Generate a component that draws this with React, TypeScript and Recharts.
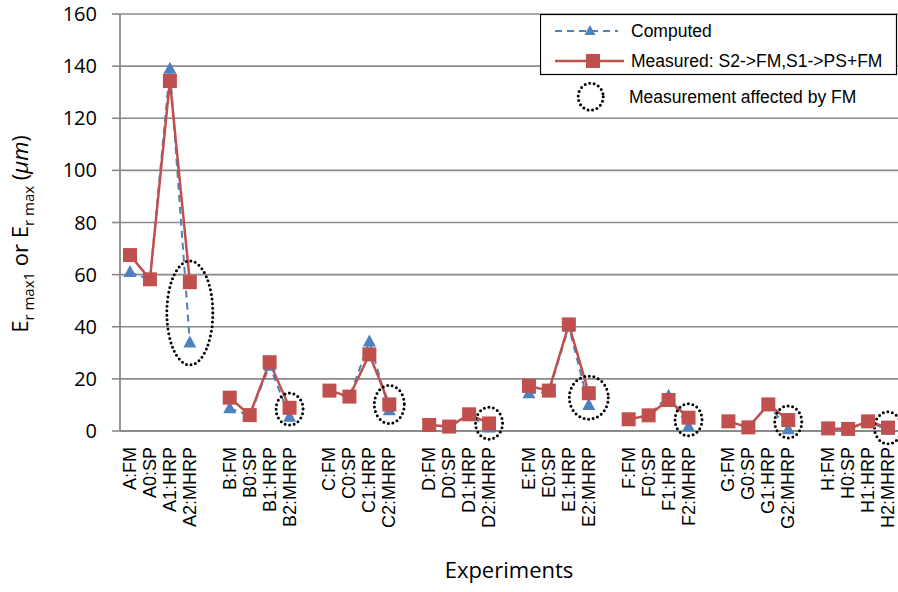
import React from "react";
import { LineChart, Line, XAxis, YAxis, CartesianGrid, Legend, ReferenceDot } from "recharts";

// experiments, with gap slots between the lettered groups
const experiments = [
  "A:FM", "A0:SP", "A1:HRP", "A2:MHRP", "gap1",
  "B:FM", "B0:SP", "B1:HRP", "B2:MHRP", "gap2",
  "C:FM", "C0:SP", "C1:HRP", "C2:MHRP", "gap3",
  "D:FM", "D0:SP", "D1:HRP", "D2:MHRP", "gap4",
  "E:FM", "E0:SP", "E1:HRP", "E2:MHRP", "gap5",
  "F:FM", "F0:SP", "F1:HRP", "F2:MHRP", "gap6",
  "G:FM", "G0:SP", "G1:HRP", "G2:MHRP", "gap7",
  "H:FM", "H0:SP", "H1:HRP", "H2:MHRP",
];

const computed = [
  61, 58, 139, 34, null,
  8.7, 6, 25, 5.5, null,
  15, 13, 34.3, 8, null,
  2, 1.5, 6, 1.3, null,
  14.5, 15, 40, 10, null,
  4.5, 6, 13.5, 1.7, null,
  3.5, 1.4, 10, 0.7, null,
  1, 0.8, 3.5, 0.5,
];

const measured = [
  67.5, 58.2, 134.3, 57.1, null,
  12.8, 6.1, 26.4, 8.9, null,
  15.5, 13.2, 29.4, 10.2, null,
  2.3, 1.7, 6.4, 2.9, null,
  17.3, 15.5, 40.9, 14.5, null,
  4.5, 6.0, 11.9, 5.1, null,
  3.7, 1.4, 10.2, 4.2, null,
  1.0, 0.8, 3.7, 1.3,
];

// measurements affected by FM (dotted ellipses) and the value at their centre
const affected = ["A2:MHRP", "B2:MHRP", "C2:MHRP", "D2:MHRP", "E2:MHRP", "F2:MHRP", "G2:MHRP", "H2:MHRP"];
const affectedCentre = [45.3, 8.4, 10.2, 3.0, 12.8, 4.3, 3.5, 1.2];

const yTicks = [0, 20, 40, 60, 80, 100, 120, 140, 160];

const data = experiments.map((name, i) => ({ name, computed: computed[i], measured: measured[i] }));

const BLUE = "#4F81BD";
const RED = "#C0504D";
const GRID = "#8a8a8a";
const SANS = "'Liberation Sans', Arial, sans-serif";
const CAL = "'Open Sans', sans-serif";

// ellipse radii per annotation (styling only)
const ellipseSize: Record<string, [number, number]> = {
  "A2:MHRP": [23, 52],
  "E2:MHRP": [19.5, 21.5],
  "C2:MHRP": [15, 19],
  default: [13.5, 16],
};

const dotted = { fill: "none", stroke: "#000", strokeWidth: 3, strokeDasharray: "0 4.6", strokeLinecap: "round" as const };

const Triangle = (props: any) => {
  const { cx, cy, index } = props;
  if (cy == null || cx == null) return <g key={`t${index}`} />;
  return <path key={`t${index}`} d={`M${cx},${cy - 7} L${cx + 6.5},${cy + 5} L${cx - 6.5},${cy + 5} Z`} fill={BLUE} />;
};

const Square = (props: any) => {
  const { cx, cy, index } = props;
  if (cy == null || cx == null) return <g key={`s${index}`} />;
  return <rect key={`s${index}`} x={cx - 7} y={cy - 7} width={14} height={14} fill={RED} />;
};

const ExperimentTick = ({ x, y, payload }: any) => {
  if (String(payload.value).startsWith("gap")) return <g />;
  return (
    <text x={x} y={y} transform={`rotate(-90, ${x}, ${y})`} textAnchor="end" dominantBaseline="central"
      fontFamily={SANS} fontSize={18} fill="#000">
      {payload.value}
    </text>
  );
};

const YTitle = ({ viewBox }: any) => {
  const x = viewBox.x + 28;
  const y = viewBox.y + 220;
  return (
    <text x={x} y={y} transform={`rotate(-90, ${x}, ${y})`} textAnchor="middle" fontFamily={CAL} fontSize={22} fill="#000">
      <tspan>E</tspan>
      <tspan fontSize={15} dy={6}>r max1</tspan>
      <tspan dy={-6}> or  E</tspan>
      <tspan fontSize={15} dy={6}>r max</tspan>
      <tspan dy={-6}> (</tspan>
      <tspan fontStyle="italic">μm</tspan>
      <tspan>)</tspan>
    </text>
  );
};

const XTitle = ({ viewBox }: any) => (
  <text x={viewBox.x + viewBox.width / 2} y={viewBox.y + 147} textAnchor="middle" fontFamily={CAL} fontSize={22} fill="#000">
    Experiments
  </text>
);

const LegendBox = ({ payload }: any) => (
  <svg width={358} height={100} style={{ display: "block" }}>
    <rect x={0.5} y={0.5} width={356} height={60} fill="#fff" stroke="#000" strokeWidth={1.2} />
    {(payload || []).map((entry: any, i: number) => {
      const y = 17 + i * 30;
      const isComputed = entry.dataKey === "computed";
      return (
        <g key={entry.value}>
          <line x1={15} x2={isComputed ? 78 : 84} y1={y} y2={y} stroke={entry.color}
            strokeWidth={isComputed ? 2 : 2.5} strokeDasharray={isComputed ? "7 5" : undefined} />
          {isComputed ? (
            <path d={`M50,${y - 6} L55.5,${y + 4} L44.5,${y + 4} Z`} fill={entry.color} />
          ) : (
            <rect x={46} y={y - 7} width={14} height={14} fill={entry.color} />
          )}
          <text x={91} y={y} dominantBaseline="central" fontFamily={SANS} fontSize={17.5} fill="#000">{entry.value}</text>
        </g>
      );
    })}
    <ellipse cx={50.7} cy={82.7} rx={12.5} ry={13.5} {...dotted} />
    <text x={89} y={82.7} dominantBaseline="central" fontFamily={SANS} fontSize={17.5} fill="#000">
      Measurement affected by FM
    </text>
  </svg>
);

export default function App() {
  return (
    <div style={{ position: "absolute", left: 0, top: 0, width: 898, height: 592, overflow: "hidden", background: "#fff" }}>
      <LineChart width={898} height={592} data={data} margin={{ top: 14, right: 0, bottom: 0, left: 0 }}>
        <CartesianGrid vertical={false} stroke={GRID} strokeWidth={1.6} />
        <XAxis
          dataKey="name"
          type="category"
          interval={0}
          height={161}
          padding={{ left: 10, right: 10 }}
          axisLine={{ stroke: GRID, strokeWidth: 1.8 }}
          tickLine={false}
          tickSize={0}
          tickMargin={16}
          tick={<ExperimentTick />}
          label={{ content: <XTitle /> }}
        />
        <YAxis
          type="number"
          domain={[0, 160]}
          ticks={yTicks}
          width={120}
          axisLine={{ stroke: GRID, strokeWidth: 1.8 }}
          tickLine={{ stroke: GRID, strokeWidth: 1.6 }}
          tickSize={8}
          tickMargin={15}
          tick={{ fill: "#000", fontSize: 20, fontFamily: CAL }}
          label={{ content: <YTitle /> }}
        />
        <Legend
          layout="vertical"
          align="center"
          verticalAlign="middle"
          wrapperStyle={{ position: "absolute", left: 540, top: 14, width: 358 }}
          content={<LegendBox />}
        />
        <Line
          dataKey="computed"
          name="Computed"
          stroke={BLUE}
          strokeWidth={2}
          strokeDasharray="7 5"
          dot={Triangle}
          activeDot={false}
          isAnimationActive={false}
        />
        <Line
          dataKey="measured"
          name="Measured: S2->FM,S1->PS+FM"
          stroke={RED}
          strokeWidth={2.5}
          dot={Square}
          activeDot={false}
          isAnimationActive={false}
        />
        {affected.map((exp, i) => {
          const [rx, ry] = ellipseSize[exp] || ellipseSize.default;
          return (
            <ReferenceDot
              key={exp}
              x={exp}
              y={affectedCentre[i]}
              r={rx}
              ifOverflow="visible"
              shape={(p: any) => <ellipse cx={p.cx} cy={p.cy} rx={rx} ry={ry} {...dotted} />}
            />
          );
        })}
      </LineChart>
    </div>
  );
}
